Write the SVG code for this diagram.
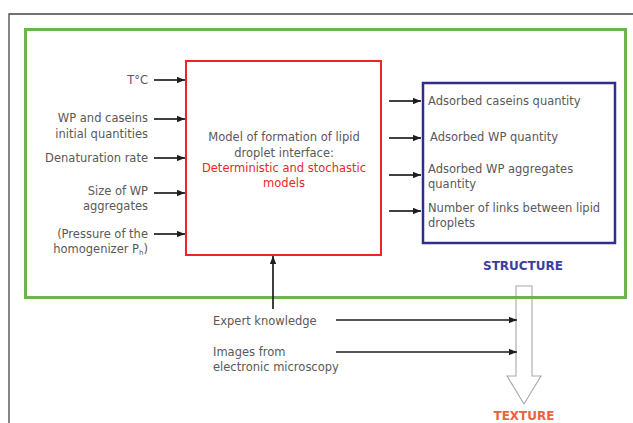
<svg xmlns="http://www.w3.org/2000/svg" width="633" height="423" viewBox="0 0 633 423">
  <style>
    .t { font-family: "DejaVu Sans", "Liberation Sans", sans-serif; font-size: 11.5px; fill: #595959; }
    .r { text-anchor: end; }
    .m { text-anchor: middle; }
    .red { fill: #e8282a; }
    .lbl { font-family: "DejaVu Sans", "Liberation Sans", sans-serif; font-size: 12px; font-weight: bold; text-anchor: middle; }
    .edge { stroke: #1e1e1e; stroke-width: 1.7; fill: none; marker-end: url(#ah); }
  </style>
  <defs>
    <marker id="ah" viewBox="0 0 10 8" refX="10" refY="4" markerWidth="8" markerHeight="6.4" markerUnits="userSpaceOnUse" orient="auto">
      <path d="M0,0 L10,4 L0,8 Z" fill="#1e1e1e"/>
    </marker>
  </defs>

  <rect width="633" height="423" fill="#fff"/>

  <!-- page frame -->
  <path d="M9,423 V14 H633" fill="none" stroke="#444" stroke-width="1.3"/>

  <!-- hollow arrow STRUCTURE -> TEXTURE -->
  <g id="texture-arrow">
    <path d="M516,286 H532 V376 H541 L524,404 L507,376 H516 Z" fill="#fff" stroke="#a8a8a8" stroke-width="1.1"/>
  </g>

  <!-- structure frame -->
  <g id="system">
    <rect x="25.5" y="29.5" width="600" height="268" fill="none" stroke="#6cb44e" stroke-width="3"/>
  </g>

  <!-- model -->
  <g id="model">
    <rect x="186" y="61" width="195" height="194" fill="#fff" stroke="#ec2424" stroke-width="2"/>
    <text class="t m" x="284" y="141">Model of formation of lipid</text>
    <text class="t m" x="284" y="157">droplet interface:</text>
    <text class="t m red" x="284" y="172">Deterministic and stochastic</text>
    <text class="t m red" x="284" y="187">models</text>
  </g>

  <!-- outputs -->
  <g id="outputs">
    <rect x="423" y="83" width="192" height="160" fill="#fff" stroke="#2e2e8c" stroke-width="2.5"/>
    <text class="t" x="428" y="105">Adsorbed caseins quantity</text>
    <text class="t" x="430" y="141">Adsorbed WP quantity</text>
    <text class="t" x="428" y="173">Adsorbed WP aggregates</text>
    <text class="t" x="428" y="188">quantity</text>
    <text class="t" x="428" y="212">Number of links between lipid</text>
    <text class="t" x="428" y="227">droplets</text>
  </g>
  <g id="structure-label">
    <text class="lbl" x="523" y="270" fill="#3d3d9e">STRUCTURE</text>
  </g>
  <g id="texture-label">
    <text class="lbl" x="524" y="420" fill="#f0603c">TEXTURE</text>
  </g>

  <!-- inputs -->
  <g id="in-temp"><text class="t r" x="148" y="84">T°C</text></g>
  <g id="in-quantities">
    <text class="t r" x="148" y="122">WP and caseins</text>
    <text class="t r" x="148" y="138">initial quantities</text>
  </g>
  <g id="in-denaturation"><text class="t r" x="148" y="162">Denaturation rate</text></g>
  <g id="in-aggregates">
    <text class="t r" x="148" y="195">Size of WP</text>
    <text class="t r" x="148" y="210">aggregates</text>
  </g>
  <g id="in-pressure">
    <text class="t r" x="148" y="238">(Pressure of the</text>
    <text class="t r" x="148" y="253">homogenizer P<tspan font-size="7" dy="2">h</tspan><tspan dy="-2">)</tspan></text>
  </g>

  <!-- knowledge sources -->
  <g id="expert"><text class="t" x="213" y="325">Expert knowledge</text></g>
  <g id="images">
    <text class="t" x="213" y="356">Images from</text>
    <text class="t" x="213" y="371">electronic microscopy</text>
  </g>

  <!-- connectors -->
  <g id="connectors">
    <path class="edge" d="M154,80 H185"/>
    <path class="edge" d="M154,119 H185"/>
    <path class="edge" d="M154,158 H185"/>
    <path class="edge" d="M154,193 H185"/>
    <path class="edge" d="M154,234 H185"/>
    <path class="edge" d="M389,101 H421"/>
    <path class="edge" d="M389,138 H421"/>
    <path class="edge" d="M389,175 H421"/>
    <path class="edge" d="M389,211 H421"/>
    <path class="edge" d="M273,309 V256"/>
    <path class="edge" d="M336,320 H517"/>
    <path class="edge" d="M336,352 H517"/>
  </g>
</svg>
